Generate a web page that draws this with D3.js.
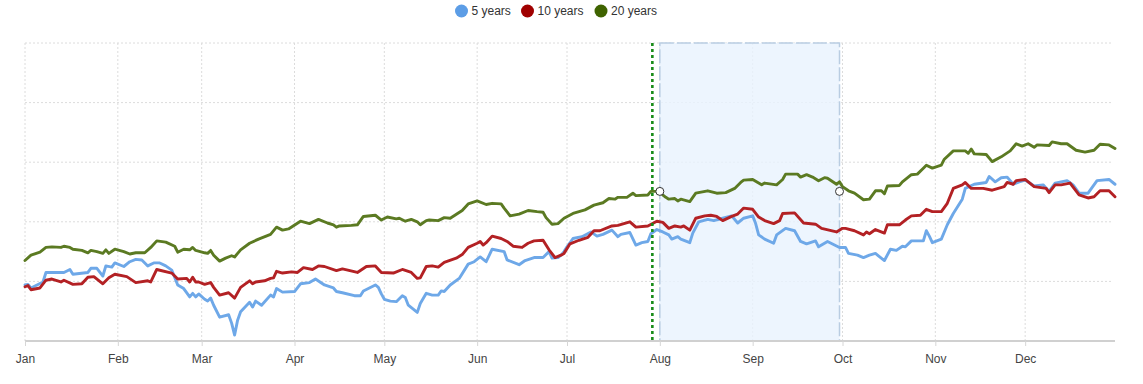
<!DOCTYPE html>
<html>
<head>
<meta charset="utf-8">
<script src="https://cdn.jsdelivr.net/npm/d3@7"></script>
<style>
  html, body { margin: 0; padding: 0; background: #fff; }
  svg { display: block; font-family: "Liberation Sans", Arial, sans-serif; }
</style>
</head>
<body>
<svg id="chart" width="1143" height="384"></svg>
<script>
// ---------- data (day offset from Jan 1, value) ----------
const seriesNames = ["5 years", "10 years", "20 years"];
const monthLabels = ["Jan","Feb","Mar","Apr","May","Jun","Jul","Aug","Sep","Oct","Nov","Dec"];
const yTicks = [0, 10, 20, 30, 40, 50];

const days20 = [0,2,5,7,9,12,13,15,16,19,21,22,24,26,27,28,30,33,35,37,40,42,44,47,50,51,53,55,56,57,60,61,62,63,65,67,69,70,72,75,78,82,84,86,88,92,95,98,101,103,104,105,109,111,113,117,119,121,124,125,127,129,131,132,134,135,138,140,142,146,148,151,154,156,159,160,162,165,168,171,173,174,176,178,180,183,187,190,193,195,197,198,201,203,204,208,209,211,212,214,215,217,218,219,222,224,228,231,234,237,239,240,243,245,246,247,251,253,254,258,259,261,263,265,267,268,271,272,273,275,277,280,282,284,286,287,288,292,293,296,298,300,301,303,306,307,310,314,315,316,317,321,323,326,329,331,333,335,337,338,342,343,346,348,351,354,357,359,362,364];
const vals20 = [13.5,14.4,14.9,15.7,15.8,15.7,15.9,15.7,15.4,15.2,14.8,15.2,15.0,14.7,15.3,14.7,15.4,15.0,14.6,14.8,14.8,15.7,16.8,16.6,15.9,14.9,15.4,15.3,15.7,15.2,14.8,14.7,15.2,14.4,13.4,13.9,14.3,14.1,15.3,16.4,17.1,17.9,19.1,18.6,18.8,20.1,19.7,20.4,19.8,19.5,19.1,19.3,19.4,19.5,20.9,21.1,20.3,20.8,20.5,20.6,20.1,20.4,20.0,19.5,20.2,20.3,20.2,20.7,20.6,21.9,23.0,23.5,22.9,23.1,23.0,22.3,21.0,21.3,21.9,21.7,21.6,20.7,19.6,19.7,20.6,21.4,22.0,22.8,23.2,23.9,23.8,24.1,24.1,24.8,24.4,24.5,25.1,25.1,24.9,24.1,23.8,23.9,23.5,23.8,23.4,24.8,25.2,24.8,24.9,25.6,26.6,27.0,27.1,26.5,26.2,26.5,26.2,27.1,28.0,28.0,27.5,27.9,27.5,26.9,27.4,27.3,26.3,26.7,25.9,25.2,24.8,23.7,23.8,25.2,25.2,24.7,26.0,26.1,26.7,27.9,28.0,29.0,29.5,29.0,29.5,30.5,31.9,31.9,31.5,32.2,31.4,31.3,30.1,30.9,31.9,33.1,32.7,33.1,32.5,32.9,32.8,33.4,33.1,33.1,32.0,31.7,32.0,33.0,32.9,32.3];

const days10 = [0,1,2,5,7,9,12,13,16,19,21,23,26,28,30,34,37,41,42,44,49,51,54,55,56,57,58,60,62,63,65,68,70,72,75,76,77,80,82,83,84,86,89,91,93,96,98,100,104,106,111,114,117,119,123,126,129,131,132,134,136,138,140,144,146,148,151,152,153,154,156,159,161,163,166,168,170,173,175,177,179,180,182,185,188,190,192,196,198,202,204,208,211,213,215,217,219,220,222,224,227,229,231,233,236,238,240,243,245,247,250,252,253,257,260,264,266,271,273,274,277,280,281,282,284,287,288,292,294,296,299,301,303,306,308,310,313,314,316,320,323,327,328,330,331,334,337,341,342,344,346,349,352,355,357,359,362,364];
const vals10 = [9.1,9.3,8.6,8.9,10.2,10.4,9.9,10.2,9.5,9.6,10.7,10.8,9.6,10.6,11.2,10.8,9.8,10.1,9.9,12.0,11.4,10.4,10.5,9.9,10.7,9.9,9.9,9.5,9.8,9.0,7.7,8.1,7.2,9.0,10.1,9.6,9.9,10.1,10.5,10.6,11.7,11.4,11.6,11.5,12.3,12.0,12.6,12.5,11.8,12.1,11.5,12.5,12.6,11.5,11.4,12.0,11.5,10.5,10.6,12.5,12.6,12.4,13.2,13.9,14.5,15.7,16.4,16.7,16.1,16.5,17.6,17.2,16.7,15.9,15.7,16.4,16.8,16.9,15.3,14.0,14.4,14.7,16.3,16.9,17.4,18.5,18.5,19.3,19.4,20.0,19.1,19.3,20.1,19.9,18.9,19.3,19.1,19.3,18.6,20.6,21.0,21.1,20.9,20.2,20.9,21.3,22.3,22.1,20.8,20.2,19.7,20.2,21.4,21.5,19.8,19.6,18.9,18.3,18.9,18.9,18.5,17.8,18.3,18.0,18.7,18.1,19.5,19.5,20.3,21.0,21.1,22.1,21.7,21.7,23.1,25.6,26.2,26.6,25.6,25.6,25.3,25.9,26.6,26.3,26.9,27.1,25.9,25.6,24.9,26.2,26.2,26.5,24.5,24.0,24.2,25.2,25.2,24.2];

const days5 = [0,1,2,4,6,7,13,15,16,21,22,24,26,27,29,30,33,35,37,39,41,43,45,47,49,51,53,55,56,57,58,60,61,62,63,65,68,69,70,71,72,75,76,77,79,82,83,84,86,90,92,95,97,100,103,104,106,110,112,113,117,118,119,120,122,124,126,127,128,131,132,134,136,138,139,140,142,145,148,150,152,154,156,160,161,165,167,170,173,175,176,178,179,180,181,183,186,189,191,193,196,198,199,202,204,206,208,209,211,213,215,216,218,219,222,223,225,228,230,233,236,238,240,243,244,245,247,250,251,254,257,259,261,264,265,268,272,274,275,278,280,282,284,285,287,289,291,293,294,296,299,300,301,302,303,306,308,310,313,314,317,321,322,324,326,328,330,332,334,337,340,342,344,348,350,352,355,358,362,364];
const vals5 = [9.4,9.5,8.9,9.4,9.9,11.5,11.5,12.0,11.2,11.5,12.2,12.2,10.9,12.6,12.4,13.1,12.5,13.3,13.7,13.6,12.6,13.1,13.1,12.6,11.9,9.4,8.8,7.4,8.0,7.4,7.9,7.0,6.7,7.2,6.0,4.0,4.4,3.0,1.0,3.5,4.9,6.5,5.7,6.7,6.0,7.7,7.4,8.8,8.2,8.3,9.6,9.8,10.4,9.4,8.9,8.3,8.1,7.6,7.6,8.4,9.4,9.0,7.9,7.0,6.7,6.6,7.6,7.3,6.0,4.8,6.3,8.0,7.7,7.7,8.4,8.3,9.4,10.5,12.9,13.3,14.1,13.3,15.4,15.0,13.6,12.8,13.5,14.0,14.0,15.0,13.9,14.0,14.4,15.0,15.8,17.2,17.5,18.3,17.6,17.9,18.6,17.5,17.9,18.2,16.1,16.5,16.7,18.0,18.7,18.3,17.8,17.1,17.5,17.1,16.5,18.1,20.0,20.4,20.2,20.6,21.0,19.8,20.6,21.0,19.7,17.8,17.1,16.4,17.8,18.9,18.5,16.7,16.3,16.8,15.8,16.7,15.7,15.7,14.7,14.4,14.0,14.4,14.7,14.3,13.5,15.4,15.2,15.9,15.8,16.8,16.8,16.8,18.5,17.6,16.5,17.1,19.5,21.4,23.8,25.6,26.3,26.6,27.6,26.7,27.4,27.5,26.3,26.7,27.0,26.0,26.2,25.1,26.5,26.9,26.2,24.8,24.8,26.9,27.1,26.3];

// annotations
const yearStart = "2019-01-01";
const yearEnd = "2019-12-31";
const bandRange = ["2019-08-01", "2019-09-30"];
const markerDate = "2019-07-29T12:00:00";
const annotValue = 25.1;

// ---------- drawing ----------
const svg = d3.select("#chart");
const plotL = 25, plotR = 1115, plotT = 43, plotB = 341;
const parse = s => new Date(s.length > 10 ? s : s + "T00:00:00");
const t0 = parse(yearStart);

const x = d3.scaleTime().domain([t0, parse(yearEnd)]).range([plotL, plotR]);
const y = d3.scaleLinear().domain([0, 50]).range([plotB, plotT]);

const colors = { line: ["#6ea8e8", "#b32124", "#5b7a22"], legend: ["#5c9de6", "#a00000", "#3f6300"] };

// gridlines horizontal
const gGrid = svg.append("g");
gGrid.selectAll("line.h").data(yTicks.filter(v => v > 0)).join("line")
  .attr("x1", plotL).attr("x2", plotR - 2)
  .attr("y1", d => y(d)).attr("y2", d => y(d))
  .attr("stroke", "#dcdcdc").attr("stroke-width", 1).attr("stroke-dasharray", "2,2");

const months = d3.timeMonth.range(t0, parse(yearEnd));
gGrid.selectAll("line.v").data(months).join("line")
  .attr("x1", d => x(d)).attr("x2", d => x(d))
  .attr("y1", plotT).attr("y2", plotB)
  .attr("stroke", "#dcdcdc").attr("stroke-width", 1).attr("stroke-dasharray", "2,2");

// highlight band
const b0 = x(parse(bandRange[0])), b1 = x(parse(bandRange[1]));
svg.append("rect")
  .attr("x", b0).attr("y", plotT).attr("width", b1 - b0).attr("height", plotB - plotT)
  .attr("fill", "#e8f3fe").attr("fill-opacity", 0.8)
  .attr("stroke", "#b9cde2").attr("stroke-width", 1.5).attr("stroke-dasharray", "14,3");

// x axis
const xAxis = d3.axisBottom(x).tickValues(months).tickFormat((d, i) => monthLabels[i]).tickSize(5).tickPadding(8);
const gx = svg.append("g").attr("transform", `translate(0,${plotB})`).call(xAxis);
gx.select(".domain").attr("stroke", "#d0d0d0").attr("stroke-width", 2).attr("d", `M${plotL},0H${plotR}`);
gx.selectAll(".tick line").attr("stroke", "#d6d6d6");
gx.selectAll(".tick text").attr("fill", "#444").style("font-size", "12px").style("font-family", "'Liberation Sans', Arial, sans-serif");

// lines
const mk = (days, vals) => days.map((d, i) => ({ date: d3.timeDay.offset(t0, d), v: vals[i] }));
const data = [mk(days5, vals5), mk(days10, vals10), mk(days20, vals20)];
const line = d3.line().x(d => x(d.date)).y(d => y(d.v));
svg.append("g").selectAll("path").data(data).join("path")
  .attr("d", line).attr("fill", "none")
  .attr("stroke", (d, i) => colors.line[i]).attr("stroke-width", 2.9)
  .attr("stroke-linejoin", "round").attr("stroke-linecap", "round");

// marker dotted line
const mx = x(parse(markerDate));
svg.append("line").attr("x1", mx).attr("x2", mx).attr("y1", plotT).attr("y2", plotB)
  .attr("stroke", "#1a8c1a").attr("stroke-width", 2.6).attr("stroke-dasharray", "3,3");

// annotation circles
svg.append("g").selectAll("circle").data(bandRange).join("circle")
  .attr("cx", d => x(parse(d))).attr("cy", y(annotValue)).attr("r", 4)
  .attr("fill", "#fff").attr("stroke", "#333").attr("stroke-width", 1);

// legend
const legendX = [461.5, 527.5, 601];
const lg = svg.append("g").selectAll("g").data(seriesNames).join("g")
  .attr("transform", (d, i) => `translate(${legendX[i]},11)`);
lg.append("circle").attr("r", 6.5).attr("fill", (d, i) => colors.legend[i]);
lg.append("text").attr("x", 10).attr("y", 4).text(d => d)
  .attr("fill", "#333").style("font-size", "12px");
</script>
</body>
</html>
